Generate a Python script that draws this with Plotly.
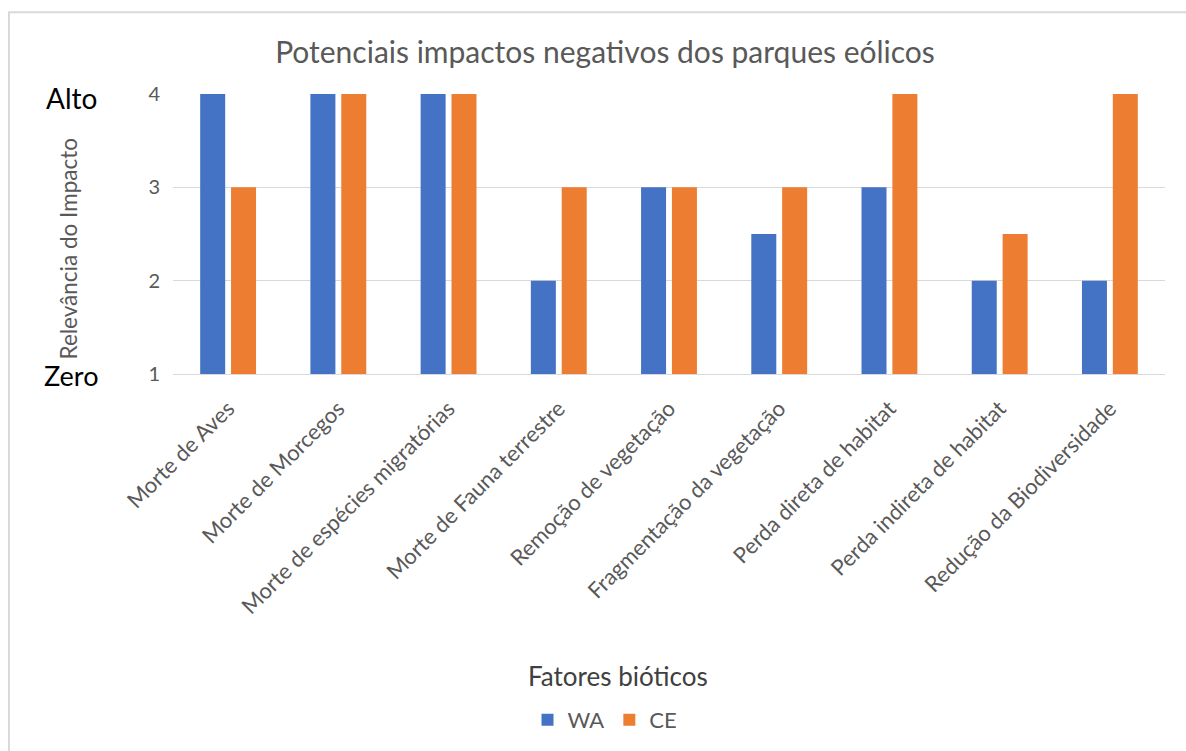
import plotly.graph_objects as go

categories = ["Morte de Aves", "Morte de Morcegos", "Morte de espécies migratórias",
              "Morte de Fauna terrestre", "Remoção de vegetação", "Fragmentação da vegetação",
              "Perda direta de habitat", "Perda indireta de habitat", "Redução da Biodiversidade"]
wa = [4, 4, 4, 2, 3, 2.5, 3, 2, 2]
ce = [3, 4, 4, 3, 3, 3, 4, 2.5, 4]
y_ticks = [1, 2, 3, 4]

W, H = 1186, 751
L, R, T, B = 173, 21, 94, 376
pw, ph = W - L - R, H - T - B

def px(x):
    return (x - L) / pw

def py(y):
    return (H - B - y) / ph

font = "Lato"
fig = go.Figure()
fig.add_bar(x=categories, y=wa, name="WA", marker=dict(color="#4472C4", line_width=0))
fig.add_bar(x=categories, y=ce, name="CE", marker=dict(color="#ED7D31", line_width=0))

fig.update_layout(
    width=W, height=H,
    margin=dict(l=L, r=R, t=T, b=B),
    paper_bgcolor="white", plot_bgcolor="white",
    barmode="group", bargap=0.44, bargroupgap=0.19,
    font=dict(family=font, color="#595959"),
    title=dict(text="Potenciais impactos negativos dos parques eólicos",
               x=605 / W, xanchor="center", y=1 - 52 / H, yanchor="middle",
               font=dict(size=30, color="#595959", family=font)),
    xaxis=dict(tickangle=-45, tickfont=dict(size=22, color="#595959"),
               showline=True, linecolor="#D9D9D9", ticks="", showgrid=False,
               ticklabelstandoff=12),
    yaxis=dict(range=[1, 4], tickvals=y_ticks, tickfont=dict(size=20, color="#595959"),
               showgrid=True, gridcolor="#D9D9D9", gridwidth=1, zeroline=False,
               ticklabelstandoff=12),
    legend=dict(orientation="h", x=px(605), xanchor="center", y=py(720), yanchor="middle",
                font=dict(size=22, color="#595959"), itemwidth=30, itemsizing="constant"),
    showlegend=True,
)

fig.add_annotation(text="Fatores bióticos", xref="paper", yref="paper",
                   x=px(618), y=py(678), xanchor="center", yanchor="middle", showarrow=False,
                   font=dict(size=26, color="#404040", family=font))
fig.add_annotation(text="Relevância do Impacto", xref="paper", yref="paper",
                   x=px(68), y=py(250), xanchor="center", yanchor="middle",
                   showarrow=False, textangle=-90,
                   font=dict(size=22.5, color="#595959", family=font))
fig.add_annotation(text="Alto", xref="paper", yref="paper",
                   x=px(71), y=py(98), xanchor="center", yanchor="middle", showarrow=False,
                   font=dict(size=28, color="black", family=font))
fig.add_annotation(text="Zero", xref="paper", yref="paper",
                   x=px(71), y=py(377), xanchor="center", yanchor="middle", showarrow=False,
                   font=dict(size=27, color="black", family=font))

fig.add_shape(type="rect", xref="paper", yref="paper",
              x0=px(9), y0=py(900), x1=px(1300), y1=py(12),
              line=dict(color="#D9D9D9", width=2), fillcolor="rgba(0,0,0,0)", layer="below")

fig.write_html("out.html")
